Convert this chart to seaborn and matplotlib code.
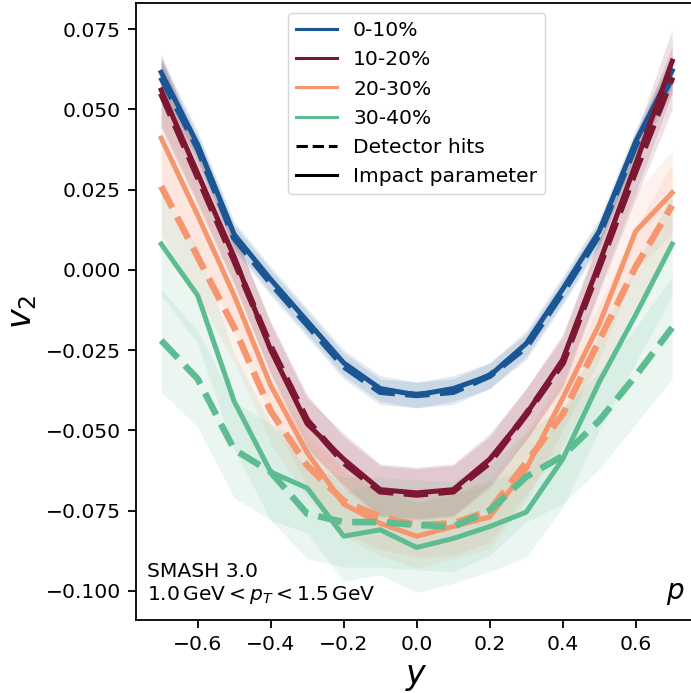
import matplotlib
matplotlib.use("Agg")
import matplotlib.pyplot as plt
from matplotlib.lines import Line2D
import pandas as pd
import seaborn as sns

# rapidity bins
rapidity = [-0.7, -0.6, -0.5, -0.4, -0.3, -0.2, -0.1, 0.0, 0.1, 0.2, 0.3, 0.4, 0.5, 0.6, 0.7]

centralities = ["0-10%", "10-20%", "20-30%", "30-40%"]
methods = ["Detector hits", "Impact parameter"]

# v2 of protons, centrality from impact parameter
v2_impact_0_10 = [0.0615, 0.039, 0.011, -0.003, -0.016, -0.029, -0.037, -0.039, -0.037, -0.033, -0.023, -0.006, 0.012, 0.040, 0.062]
v2_impact_10_20 = [0.056, 0.030, 0.004, -0.025, -0.048, -0.059, -0.0685, -0.0695, -0.0685, -0.059, -0.045, -0.028, 0.002, 0.033, 0.065]
v2_impact_20_30 = [0.041, 0.017, -0.008, -0.036, -0.057, -0.073, -0.079, -0.083, -0.080, -0.077, -0.062, -0.040, -0.017, 0.012, 0.024]
v2_impact_30_40 = [0.008, -0.008, -0.041, -0.063, -0.068, -0.083, -0.081, -0.0865, -0.0837, -0.080, -0.0755, -0.059, -0.035, -0.014, 0.008]

# v2 of protons, centrality from detector hits
v2_hits_0_10 = [0.060, 0.038, 0.010, -0.004, -0.017, -0.030, -0.038, -0.039, -0.038, -0.033, -0.024, -0.007, 0.011, 0.039, 0.060]
v2_hits_10_20 = [0.055, 0.029, 0.003, -0.024, -0.047, -0.060, -0.069, -0.070, -0.069, -0.060, -0.045, -0.029, 0.001, 0.031, 0.060]
v2_hits_20_30 = [0.026, 0.004, -0.018, -0.044, -0.061, -0.072, -0.077, -0.0795, -0.079, -0.075, -0.060, -0.045, -0.022, 0.001, 0.020]
v2_hits_30_40 = [-0.022, -0.034, -0.056, -0.063, -0.076, -0.0786, -0.0786, -0.0795, -0.080, -0.075, -0.0645, -0.058, -0.047, -0.033, -0.018]

# statistical uncertainties
err_0_10 = [0.005, 0.004, 0.004, 0.004, 0.004, 0.004, 0.004, 0.004, 0.004, 0.004, 0.004, 0.004, 0.004, 0.004, 0.005]
err_10_20 = [0.011, 0.009, 0.008, 0.008, 0.008, 0.008, 0.008, 0.008, 0.008, 0.008, 0.008, 0.008, 0.008, 0.009, 0.010]
err_20_30 = [0.015, 0.012, 0.011, 0.010, 0.010, 0.010, 0.010, 0.010, 0.010, 0.010, 0.010, 0.010, 0.011, 0.012, 0.013]
err_30_40 = [0.016, 0.015, 0.015, 0.015, 0.014, 0.014, 0.014, 0.014, 0.014, 0.014, 0.014, 0.015, 0.015, 0.015, 0.016]

colors = ["#1b5694", "#7d1630", "#f5966e", "#5ebc91"]

series = {
    ("0-10%", "Detector hits"): (v2_hits_0_10, err_0_10),
    ("0-10%", "Impact parameter"): (v2_impact_0_10, err_0_10),
    ("10-20%", "Detector hits"): (v2_hits_10_20, err_10_20),
    ("10-20%", "Impact parameter"): (v2_impact_10_20, err_10_20),
    ("20-30%", "Detector hits"): (v2_hits_20_30, err_20_30),
    ("20-30%", "Impact parameter"): (v2_impact_20_30, err_20_30),
    ("30-40%", "Detector hits"): (v2_hits_30_40, err_30_40),
    ("30-40%", "Impact parameter"): (v2_impact_30_40, err_30_40),
}

rows = []
for (cent, meth), (vals, errs) in series.items():
    for yv, v, e in zip(rapidity, vals, errs):
        rows.append({"y": yv, "v2": v, "err": e, "centrality": cent, "method": meth})
df = pd.DataFrame(rows)

plt.rcParams["font.family"] = ["DejaVu Sans"]
plt.rcParams["mathtext.fontset"] = "dejavusans"
plt.rcParams["axes.linewidth"] = 1.3

fig = plt.figure(figsize=(6.91, 6.93), dpi=100)
ax = fig.add_axes([136 / 691, 73 / 693, 561.4 / 691, 617 / 693])

palette = dict(zip(centralities, colors))

# uncertainty bands
for (cent, meth), grp in df.groupby(["centrality", "method"], sort=False):
    ax.fill_between(grp["y"], grp["v2"] - grp["err"], grp["v2"] + grp["err"],
                    color=palette[cent], alpha=0.12, lw=0)

sns.lineplot(data=df, x="y", y="v2", hue="centrality", style="method", size="method",
             hue_order=centralities, style_order=methods, size_order=methods,
             palette=palette,
             sizes={"Detector hits": 4.7, "Impact parameter": 3.6},
             dashes={"Detector hits": (3.7, 1.6), "Impact parameter": ""},
             legend=False, ax=ax, estimator=None, sort=True)

ax.set_xlim(-0.769, 0.769)
ax.set_ylim(-0.1091, 0.0831)
ax.set_xticks([-0.6, -0.4, -0.2, 0.0, 0.2, 0.4, 0.6])
ax.set_yticks([-0.100, -0.075, -0.050, -0.025, 0.000, 0.025, 0.050, 0.075])
ax.tick_params(labelsize=14.6, length=5.5, width=1.3, pad=5.5)
ax.set_xlabel("$y$", fontsize=24, labelpad=4)
ax.set_ylabel("$v_2$", fontsize=24, labelpad=5)

handles = [Line2D([], [], color=c, lw=2.2) for c in colors]
handles += [Line2D([], [], color="black", lw=2.2, ls="--"),
            Line2D([], [], color="black", lw=2.2, ls="-")]
labels = centralities + methods
ax.legend(handles, labels, loc="upper center", fontsize=14.6)

ax.text(0.019, 0.0697, "SMASH 3.0", transform=ax.transAxes, fontsize=14.6, va="baseline")
ax.text(0.019, 0.032, r"$1.0\,\mathrm{GeV} < p_T < 1.5\,\mathrm{GeV}$",
        transform=ax.transAxes, fontsize=14.6, va="baseline")
ax.text(0.96, 0.034, "$p$", transform=ax.transAxes, fontsize=20,
        ha="center", va="baseline")

fig.savefig("out.png", dpi=100)
